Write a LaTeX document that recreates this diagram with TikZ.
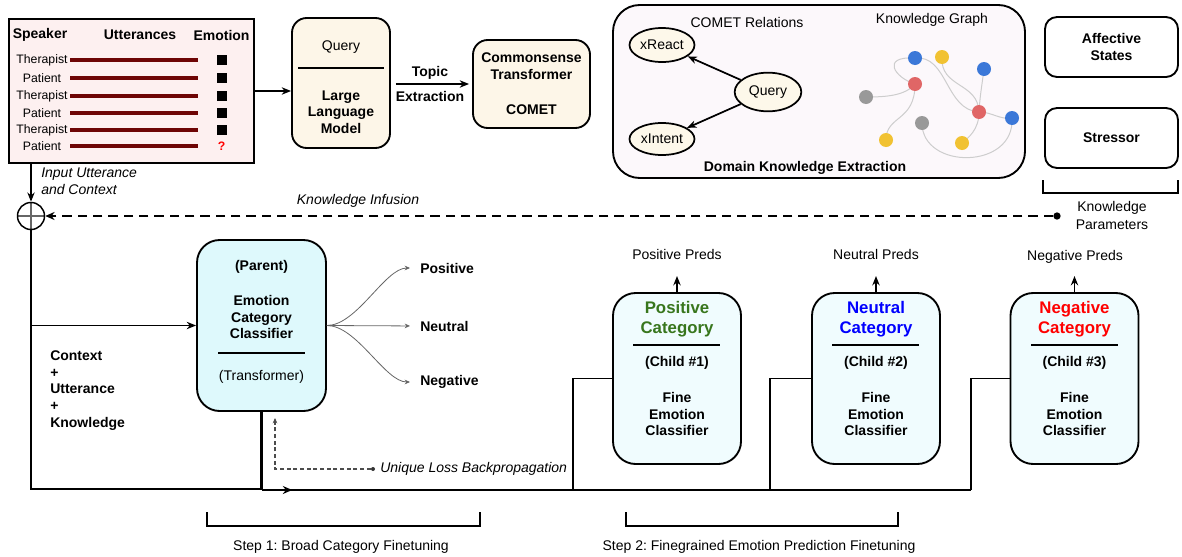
\documentclass[tikz,border=0pt]{standalone}
\usepackage{fontspec}
\setmainfont{Liberation Sans}
\usetikzlibrary{arrows.meta,shapes.geometric,calc,decorations.markings}
\definecolor{tablefill}{RGB}{253,240,240}
\definecolor{creamfill}{RGB}{253,246,232}
\definecolor{ellfill}{RGB}{253,248,234}
\definecolor{domfill}{RGB}{252,248,251}
\definecolor{parentfill}{RGB}{222,249,252}
\definecolor{childfill}{RGB}{240,252,254}
\definecolor{uttred}{RGB}{110,5,5}
\definecolor{kgblue}{RGB}{59,120,216}
\definecolor{kgyellow}{RGB}{241,194,50}
\definecolor{kgred}{RGB}{224,102,102}
\definecolor{kggray}{RGB}{153,153,153}
\definecolor{kgedge}{RGB}{205,205,205}
\definecolor{posgreen}{RGB}{56,118,29}
\definecolor{neublue}{RGB}{0,0,255}
\definecolor{negred}{RGB}{255,0,0}
\newcommand\fsA{\fontsize{10.5}{12.5}\selectfont}
\newcommand\fsS{\fontsize{9.2}{11}\selectfont}
\newcommand\fsB{\fontsize{12.6}{15}\selectfont}
\frenchspacing
\begin{document}
\begin{tikzpicture}[x=0.75pt,y=-0.75pt,
  txt/.style={font=\fsA, inner sep=0pt, align=center},
  btxt/.style={font=\fsA\bfseries, inner sep=0pt, align=center},
  itxt/.style={font=\fsA\itshape, inner sep=0pt, align=left},
  stxt/.style={font=\fsS, inner sep=0pt},
  rbox/.style={draw, line width=1.4pt, rounded corners=#1, inner sep=0pt},
  ell/.style={ellipse, draw, line width=1.3pt, fill=ellfill, inner sep=0pt, font=\fsA},
  kgn/.style={circle, fill=#1, minimum size=10.5pt, inner sep=0pt},
  kge/.style={draw=kgedge, line width=0.75pt},
  conn/.style={line width=1.1pt},
  arr/.style={line width=1.3pt, -{Stealth[length=7pt,width=5.5pt]}},
  outarr/.style={draw=black!60, line width=0.6pt, -{Stealth[length=4pt,width=3.5pt]}},
  brk/.style={line width=1.1pt},
  emo/.style={fill=black, minimum size=7.5pt, inner sep=0pt}
]
\useasboundingbox (0,0) rectangle (1182,557);

% ---------------- table ----------------
\node[draw, line width=1.4pt, fill=tablefill, minimum width=183.75pt, minimum height=108pt, inner sep=0pt] (tbl) at (131.5,91) {};
\node[btxt] (hspk) at (40,35) {Speaker};
\node[btxt] (hutt) at (140,35) {Utterances};
\node[btxt] (hemo) at (221.5,35) {Emotion};
\foreach \y/\n/\i in {60/Therapist/1,78/Patient/2,96/Therapist/3,113/Patient/4,130/Therapist/5,146/Patient/6}{
  \node[stxt] (spk\i) at (42,\y) {\n};
  \draw[uttred, line width=2.6pt] (70,\y) -- (198,\y);
}
\foreach \y/\i in {60/1,78/2,96/3,113/4,130/5}{
  \node[emo] (em\i) at (221.5,\y) {};
}
\node[font=\fsS\bfseries, text=negred, inner sep=0pt] (em6) at (221.5,146) {?};

% ---------------- LLM ----------------
\node[rbox=11pt, fill=creamfill, minimum width=73.5pt, minimum height=97.5pt] (llm) at (341,83) {};
\node[txt] (llmq) at (341,47) {Query};
\draw[line width=1.3pt] (298,68) -- (384,68);
\node[btxt] (llmt) at (341,112) {Large\\Language\\Model};
\draw[arr] (tbl.east) -- (tbl.east -| llm.west);

% ---------------- COMET ----------------
\node[rbox=11pt, fill=creamfill, minimum width=87.75pt, minimum height=66pt] (comet) at (531.5,84) {};
\node[btxt] (cometa) at (531.5,66.5) {Commonsense\\Transformer};
\node[btxt] (cometb) at (531.5,110) {COMET};
\draw[arr] ($(llm.east |- comet.west)+(5,0)$) -- ($(comet.west)+(-3,0)$);
\node[btxt] (topic) at (430,73) {Topic};
\node[btxt] (extr) at (430,96) {Extraction};

% ---------------- Domain knowledge ----------------
\node[rbox=20pt, fill=domfill, minimum width=309pt, minimum height=129.75pt] (dom) at (819,91.5) {};
\node[txt] (cr) at (747,22) {COMET Relations};
\node[txt] (kgt) at (932,20) {Knowledge Graph};
\node[btxt] (dke) at (805,168) {Domain Knowledge Extraction};
\node[ell, minimum width=48.75pt, minimum height=25.5pt] (xreact) at (662,45) {xReact};
\node[ell, minimum width=48.75pt, minimum height=24pt] (xintent) at (662,139) {xIntent};
\node[ell, minimum width=50pt, minimum height=29pt] (query) at (768,92) {Query};
\draw[arr] (query) -- (xreact);
\draw[arr] (query) -- (xintent);

% knowledge graph
\coordinate (b1) at (915,58);
\coordinate (y1) at (942,57);
\coordinate (b2) at (984,69);
\coordinate (r1) at (915,84);
\coordinate (g1) at (866,97);
\coordinate (r2) at (979,112);
\coordinate (b3) at (1012,118);
\coordinate (g2) at (922,123);
\coordinate (y2) at (886,140);
\coordinate (y3) at (962,143);
\draw[kge] (b1) .. controls (880,56) and (895,78) .. (r1);
\draw[kge] (r1) .. controls (905,96) and (885,97) .. (g1);
\draw[kge] (r1) .. controls (915,122) and (886,115) .. (y2);
\draw[kge] (b1) .. controls (948,55) and (945,110) .. (r2);
\draw[kge] (y1) .. controls (940,88) and (978,82) .. (r2);
\draw[kge] (b2) .. controls (982,85) and (980,95) .. (r2);
\draw[kge] (r2) .. controls (992,112) and (1000,120) .. (b3);
\draw[kge] (r2) .. controls (979,130) and (968,138) .. (y3);
\draw[kge] (g2) .. controls (922,170) and (1015,170) .. (b3);
\node[kgn=kgblue] (nb1) at (b1) {};
\node[kgn=kgyellow] (ny1) at (y1) {};
\node[kgn=kgblue] (nb2) at (b2) {};
\node[kgn=kgred] (nr1) at (r1) {};
\node[kgn=kggray] (ng1) at (g1) {};
\node[kgn=kgred] (nr2) at (r2) {};
\node[kgn=kgblue] (nb3) at (b3) {};
\node[kgn=kggray] (ng2) at (g2) {};
\node[kgn=kgyellow] (ny2) at (y2) {};
\node[kgn=kgyellow] (ny3) at (y3) {};

% ---------------- knowledge parameters ----------------
\node[rbox=9pt, fill=white, minimum width=99.75pt, minimum height=45pt] (aff) at (1111.5,47) {};
\node[btxt] (afft) at (1111.5,47) {Affective\\States};
\node[rbox=9pt, fill=white, minimum width=99.75pt, minimum height=45pt] (str) at (1111.5,138) {};
\node[btxt] (strt) at (1111.5,138) {Stressor};
\draw[brk] (1043,180) -- (1043,193) -- (1178,193) -- (1178,180);
\node[txt, font=\fontsize{10.5}{13.5}\selectfont] (kp) at (1112,215) {Knowledge\\Parameters};

% ---------------- infusion ----------------
\node[circle, draw, line width=1.1pt, minimum size=20.25pt, inner sep=0pt,
  path picture={\draw[black!60, line width=0.8pt] (path picture bounding box.north) -- (path picture bounding box.south)
  (path picture bounding box.west) -- (path picture bounding box.east);}] (circ) at (31,216) {};
\node[circle, fill=black, minimum size=5.5pt, inner sep=0pt] (kdot) at (1057,216) {};
\draw[line width=1.5pt, dash pattern=on 7pt off 4.5pt, -{Stealth[length=7pt,width=6pt]}] (kdot) -- (circ.east);
\node[itxt] (kinf) at (358,201) {Knowledge Infusion};
\draw[arr] (circ |- tbl.south) -- (circ.north);
\node[itxt, anchor=west, font=\fontsize{10.5}{12.75}\selectfont\itshape] (iuc) at (41,181.5) {Input Utterance\\and Context};

% ---------------- parent ----------------
\node[rbox=17pt, fill=parentfill, minimum width=96.75pt, minimum height=128.25pt] (parent) at (261.5,325.5) {};
\node[btxt] (part) at (261.5,267) {(Parent)};
\node[btxt] (parc) at (261.5,317) {Emotion\\Category\\Classifier};
\draw[line width=1.3pt] (218,353) -- (305,353);
\node[txt] (part2) at (261.5,377) {(Transformer)};
\draw[arr] (circ |- parent.west) -- (parent.west);
\node[itxt, anchor=west, font=\fontsize{10.5}{12.6}\selectfont\bfseries] (ctx) at (50,390.5) {Context\\+\\Utterance\\+\\Knowledge};

\node[btxt, anchor=west] (pl) at (420,268) {Positive};
\node[btxt, anchor=west] (nl) at (420,326) {Neutral};
\node[btxt, anchor=west] (gl) at (420,382) {Negative};
\draw[outarr, shorten >=7.5pt] (parent.east) .. controls +(30,0) and +(-35,0) .. (pl.west);
\draw[outarr, shorten >=7.5pt] (parent.east) -- (nl.west);
\draw[outarr, shorten >=7.5pt] (parent.east) .. controls +(30,0) and +(-35,0) .. (gl.west);

% ---------------- bottom connections ----------------
\coordinate (bl) at (31,489);
\draw[conn] (circ.south) |- (parent.south |- bl);
\coordinate (bus0) at (261.5,490);
\coordinate (bus1) at (573,490);
\coordinate (bus2) at (770,490);
\coordinate (bus3) at (971,490);
\draw[line width=2.2pt, postaction={decorate},
  decoration={markings, mark=at position 23pt with {\arrow{Stealth[length=7pt,width=6pt]}}}] (bus0) -- (bus3);
\draw[line width=1.6pt] (parent.south) -- (bus0);

\coordinate (losstip) at (275,418);
\node[circle, fill=black!80, minimum size=3pt, inner sep=0pt] (lossdot) at (373,469) {};
\draw[black!70, line width=0.8pt, dash pattern=on 3pt off 2pt, -{Stealth[length=4pt,width=3.5pt]}] (lossdot) -| (losstip);
\node[itxt, anchor=west] (loss) at (380,469) {Unique Loss Backpropagation};

% ---------------- children ----------------
\node[rbox=17pt, fill=childfill, minimum width=96pt, minimum height=128.25pt] (pos) at (677,378.5) {};
\node[rbox=17pt, fill=childfill, minimum width=96pt, minimum height=128.25pt] (neu) at (876,378.5) {};
\node[rbox=17pt, fill=childfill, minimum width=96pt, minimum height=128.25pt] (neg) at (1074.5,378.5) {};
\node[font=\fsB\bfseries, text=posgreen, inner sep=0pt, align=center] (post) at (677,319) {Positive\\Category};
\node[font=\fsB\bfseries, text=neublue, inner sep=0pt, align=center] (neut) at (876,319) {Neutral\\Category};
\node[font=\fsB\bfseries, text=negred, inner sep=0pt, align=center] (negt) at (1074.5,319) {Negative\\Category};
\draw[line width=1.3pt] (633,345) -- (720,345);
\draw[line width=1.3pt] (832,345) -- (919,345);
\draw[line width=1.3pt] (1031,345) -- (1118,345);
\node[btxt] (posc) at (677,363) {(Child \#1)};
\node[btxt] (neuc) at (876,363) {(Child \#2)};
\node[btxt] (negc) at (1074.5,363) {(Child \#3)};
\node[btxt] (posf) at (677,414) {Fine\\Emotion\\Classifier};
\node[btxt] (neuf) at (876,414) {Fine\\Emotion\\Classifier};
\node[btxt] (negf) at (1074.5,414) {Fine\\Emotion\\Classifier};
\draw[conn] (bus1) |- (pos.west);
\draw[conn] (bus2) |- (neu.west);
\draw[conn] (bus3) |- (neg.west);

\node[txt] (pp) at (677,254) {Positive Preds};
\node[txt] (np) at (876,254) {Neutral Preds};
\node[txt] (gp) at (1075,257) {Negative Preds};
\coordinate (pptip) at (677,276);
\coordinate (nptip) at (876,276);
\coordinate (gptip) at (1074.5,276);
\draw[arr] (pos.north) -- (pptip);
\draw[arr] (neu.north) -- (nptip);
\draw[arr] (neg.north) -- (gptip);

% ---------------- steps ----------------
\draw[brk] (207,512) -- (207,526) -- (480,526) -- (480,512);
\node[txt] (s1) at (341,547) {Step 1: Broad Category Finetuning};
\draw[brk] (626,512) -- (626,526) -- (898,526) -- (898,512);
\node[txt] (s2) at (759,547) {Step 2: Finegrained Emotion Prediction Finetuning};
\end{tikzpicture}
\end{document}
